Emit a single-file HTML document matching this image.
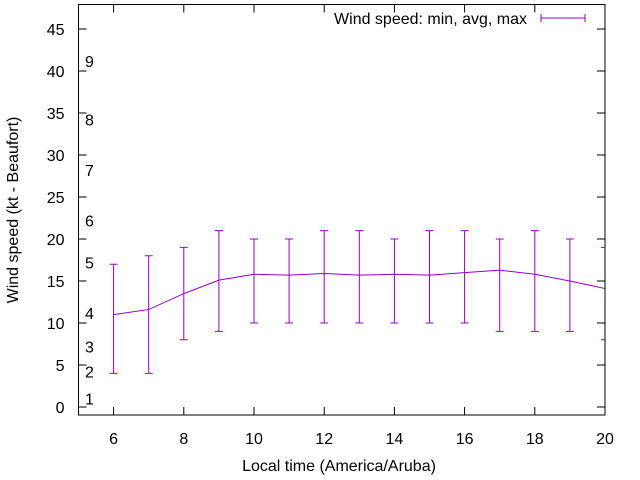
<!DOCTYPE html>
<html><head><meta charset="utf-8"><style>
body{margin:0;background:#fff}
svg{display:block;font-family:"Liberation Sans",sans-serif;font-size:16px}
</style></head><body>
<svg id="chart" width="640" height="480" xmlns="http://www.w3.org/2000/svg">
<g id="axes"></g>
<g id="beaufort"></g>
<g id="series"></g>
<rect x="78.5" y="4.5" width="526.5" height="410.5" fill="none" stroke="#000" stroke-width="1"/>
<text transform="translate(18,210) rotate(-90)" text-anchor="middle">Wind speed (kt - Beaufort)</text>
<text x="339" y="471" text-anchor="middle">Local time (America/Aruba)</text>
<g>
<text x="527" y="24" text-anchor="end">Wind speed: min, avg, max</text>
<line x1="541" y1="18" x2="585" y2="18" stroke="#9400d3"/>
<line x1="541" y1="14" x2="541" y2="22" stroke="#9400d3"/>
<line x1="585" y1="14" x2="585" y2="22" stroke="#9400d3"/>
</g>
</svg>
<script>
const hours=[6,7,8,9,10,11,12,13,14,15,16,17,18,19,20];
const avgVals=[11,11.6,13.5,15.1,15.8,15.7,15.9,15.7,15.8,15.7,16,16.3,15.8,15,14.1];
const minVals=[4,4,8,9,10,10,10,10,10,10,10,9,9,9,8];
const maxVals=[17,18,19,21,20,20,21,21,20,21,21,20,21,20,19];
const yTicks=[0,5,10,15,20,25,30,35,40,45];
const xTicks=[6,8,10,12,14,16,18,20];
const beaufortLabels=["1","2","3","4","5","6","7","8","9"];
const beaufortPos=[1,4.2,7.2,11.2,17.2,22.2,28.2,34.2,41.2];
const NS="http://www.w3.org/2000/svg";
const L=78.5,R=605;
const xs=v=>L+(v-5)*(R-L)/15;
const ys=v=>407-v*8.4;
function mk(tag,attrs,parent){const e=document.createElementNS(NS,tag);for(const k in attrs)e.setAttribute(k,attrs[k]);parent.appendChild(e);return e;}
const ax=document.getElementById('axes');
yTicks.forEach(t=>{const y=ys(t);
const a=mk('line',{x1:L,y1:y,x2:L+8,y2:y,stroke:'#000'},ax);


const b=mk('line',{x1:R-8,y1:y,x2:R,y2:y,stroke:'#000'},ax);


const tx=mk('text',{x:L-14,y:y+6,'text-anchor':'end'},ax);tx.textContent=t;


});
xTicks.forEach(t=>{const x=xs(t);
const a=mk('line',{x1:x,y1:415,x2:x,y2:407,stroke:'#000'},ax);


const b=mk('line',{x1:x,y1:4.5,x2:x,y2:12.5,stroke:'#000'},ax);


const tx=mk('text',{x:x,y:444,'text-anchor':'middle'},ax);tx.textContent=t;


});
const bf=document.getElementById('beaufort');
beaufortLabels.forEach((s,i)=>{const tx=mk('text',{x:85,y:ys(beaufortPos[i])+6},bf);tx.textContent=s;


});
const sr=document.getElementById('series');
const cp=mk('clipPath',{id:'clip'},sr);mk('rect',{x:L,y:4.5,width:R-L,height:410.5},cp);
const g=mk('g',{'clip-path':'url(#clip)'},sr);
const pl=mk('polyline',{points:hours.map((h,i)=>xs(h)+','+ys(avgVals[i])).join(' '),fill:'none',stroke:'#9400d3'},g);


hours.forEach((h,i)=>{const x=xs(h),y1=ys(minVals[i]),y2=ys(maxVals[i]);
const e=mk('path',{d:`M${x},${y1}V${y2}M${x-4},${y1}H${x+4}M${x-4},${y2}H${x+4}`,stroke:'#9400d3',fill:'none'},g);


});
</script>
</body></html>
